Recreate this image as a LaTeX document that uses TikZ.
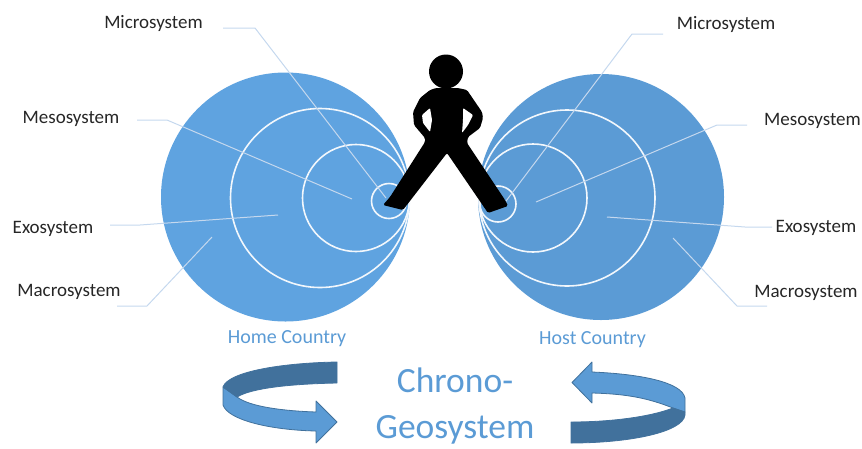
\documentclass[tikz,border=0pt]{standalone}
\usepackage{fontspec}
\setmainfont{Carlito}
\definecolor{homeblue}{HTML}{5FA3E0}
\definecolor{hostblue}{HTML}{5B9BD5}
\definecolor{arrowdark}{HTML}{41719C}
\definecolor{capblue}{HTML}{5B9BD5}
\definecolor{leadcol}{HTML}{C5D8EE}
\tikzset{
  x=1pt,y=-1pt,
  bigdisc/.style={fill=#1,draw=none},
  ring/.style={draw=white!92!hostblue,line width=1.6pt},
  lab/.style={font=\fontsize{19}{21}\selectfont,text=black!85,inner sep=0pt,anchor=base},
  captext/.style={font=\fontsize{20}{22}\selectfont,text=capblue,inner sep=0pt,anchor=base},
  titletext/.style={font=\fontsize{35.5}{38}\selectfont,text=capblue,inner sep=0pt,anchor=base},
  leadstyle/.style={draw=leadcol,line width=1pt,line join=round},
  band/.style={draw=arrowdark,line width=.8pt,line join=round},
}
\begin{document}
\begin{tikzpicture}
\useasboundingbox (0,0) rectangle (862,448);
% left circles
\fill[bigdisc=homeblue] (285.5,197) circle (124.5);
\draw[ring] (320,198) circle (89.5);
\draw[ring] (356,198) circle (53.5);
\draw[ring] (389,201) circle (17.5);
% right circles
\fill[bigdisc=hostblue] (601,197) circle (123);
\draw[ring] (567,198) circle (88);
\draw[ring] (533,198) circle (54);
\draw[ring] (498,204) circle (18);
% labels
\node[lab] (lmi) at (153.5,28) {Microsystem};
\node[lab] (lme) at (71,123) {Mesosystem};
\node[lab] (lex) at (53,233) {Exosystem};
\node[lab] (lma) at (69,296) {Macrosystem};
\node[lab] (rmi) at (726,29) {Microsystem};
\node[lab] (rme) at (812.5,125) {Mesosystem};
\node[lab] (rex) at (816,232) {Exosystem};
\node[lab] (rma) at (806,297) {Macrosystem};
% leader lines
\coordinate (a1) at (223,28); \coordinate (a2) at (255,28); \coordinate (a3) at (386,198);
\coordinate (b1) at (137,120); \coordinate (b2) at (167,120); \coordinate (b3) at (352,199);
\coordinate (c1) at (110,225); \coordinate (c2) at (140,225); \coordinate (c3) at (278,215);
\coordinate (d1) at (117,306); \coordinate (d2) at (147,306); \coordinate (d3) at (212,237);
\coordinate (e1) at (663,34); \coordinate (e2) at (632,34); \coordinate (e3) at (503,205);
\coordinate (f1) at (747,125); \coordinate (f2) at (717,125); \coordinate (f3) at (536,202);
\coordinate (g1) at (772,227); \coordinate (g2) at (745,227); \coordinate (g3) at (607,217);
\coordinate (h1) at (767,306); \coordinate (h2) at (737,306); \coordinate (h3) at (673,238);
\foreach \p in {a,b,c,d,e,f,g,h}{
  \draw[leadstyle] (\p1) -- (\p2) -- (\p3);
}
% figure
\fill[black] (446,71.5) circle (17);
\fill[black,rounded corners=1.5pt]
  (430,90) -- (420,98) -- (413,112) -- (414,125) -- (425,138) -- (425,142)
  -- (390,197) -- (383,205) -- (403,210)
  -- (447,153)
  -- (488,213) -- (508,206) -- (505,200)
  -- (467,143) -- (468,137) -- (480,128) -- (483,118) -- (482,112) -- (467,90) -- (458,88) -- (436,88) -- cycle;
\fill[white,rounded corners=1pt] (430,108) -- (422,115) -- (423,123) -- (430,132) -- (432,120) -- cycle;
\fill[white,rounded corners=1pt] (463,108) -- (473,115) -- (468,125) -- (462,133) -- (463,120) -- cycle;
% captions
\node[captext] (home) at (287,343) {Home Country};
\node[captext] (host) at (592.5,344) {Host Country};
\node[titletext] (t1) at (455,392) {Chrono-};
\node[titletext] (t2) at (455,438.5) {Geosystem};
% left curved arrow
\filldraw[band,fill=hostblue]
  (223,387) -- (223,405) .. controls (228,420) and (270,430) .. (316,431)
  -- (316,443) -- (337,422) -- (316,401) -- (316,412)
  .. controls (285,411) and (250,407) .. (237,397) -- cycle;
\filldraw[band,fill=arrowdark]
  (337,362) -- (337,383) .. controls (290,384) and (252,388) .. (237,397)
  -- (223,387)
  .. controls (228,372) and (280,363) .. (337,362) -- cycle;
% right curved arrow
\filldraw[band,fill=hostblue]
  (685,398) -- (685,412) -- (673,408)
  .. controls (650,399) and (630,394) .. (592,393) -- (592,403) -- (572,382.5) -- (592,362) -- (592,372)
  .. controls (640,374) and (682,382) .. (685,398) -- cycle;
\filldraw[band,fill=arrowdark]
  (571,422) -- (571,443) .. controls (630,443) and (683,432) .. (685,415)
  -- (685,412) -- (673,408)
  .. controls (650,417) and (610,422) .. (571,422) -- cycle;
\end{tikzpicture}
\end{document}
